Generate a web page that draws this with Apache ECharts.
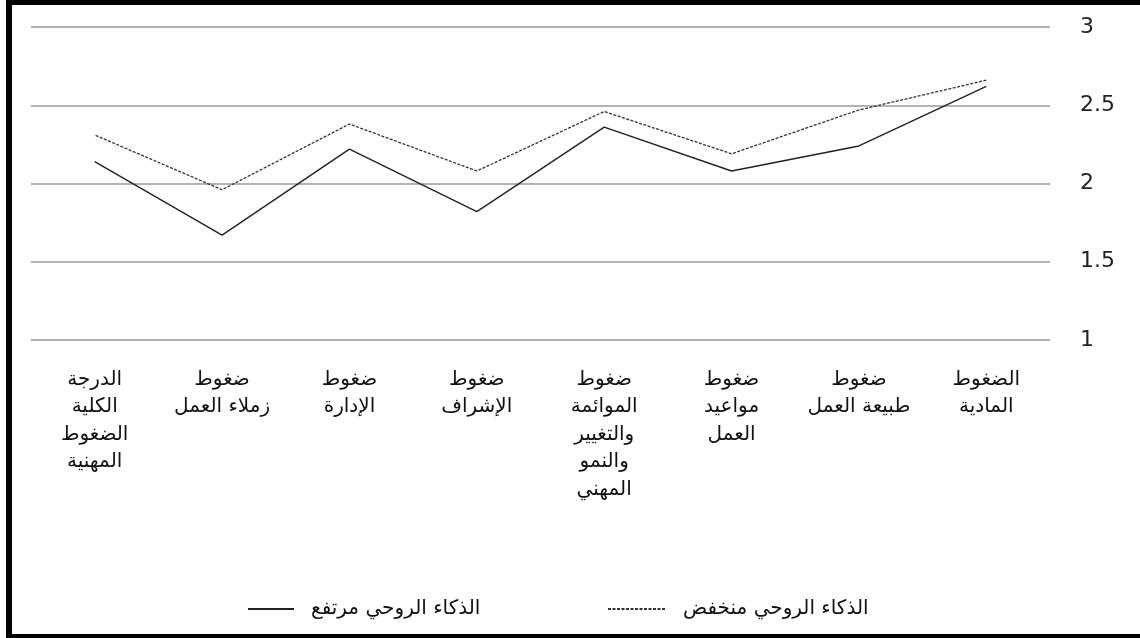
<!DOCTYPE html>
<html>
<head>
<meta charset="utf-8">
<script src="https://cdn.jsdelivr.net/npm/echarts@6/dist/echarts.min.js"></script>
<style>
html,body{margin:0;padding:0;background:#fff;overflow:hidden;}
#c{width:1140px;height:638px;}
</style>
</head>
<body>
<div id="c"></div>
<script>
// Categories in right-to-left order (first = rightmost)
const categories = [
  'الضغوط\nالمادية',
  'ضغوط\nطبيعة العمل',
  'ضغوط\nمواعيد\nالعمل',
  'ضغوط\nالموائمة\nوالتغيير\nوالنمو\nالمهني',
  'ضغوط\nالإشراف',
  'ضغوط\nالإدارة',
  'ضغوط\nزملاء العمل',
  'الدرجة\nالكلية\nالضغوط\nالمهنية'
];
const seriesHighName = 'الذكاء الروحي مرتفع';
const seriesLowName = 'الذكاء الروحي منخفض';
const highValues = [2.62, 2.24, 2.08, 2.36, 1.82, 2.22, 1.67, 2.14];
const lowValues  = [2.66, 2.47, 2.19, 2.46, 2.08, 2.38, 1.96, 2.31];
const yTicks = [1, 1.5, 2, 2.5, 3];

const arFont = "'DejaVu Sans', sans-serif";
const chart = echarts.init(document.getElementById('c'));
chart.setOption({
  backgroundColor: '#fff',
  animation: false,
  grid: {left: 31, right: 90, top: 27, bottom: 298},
  xAxis: {
    type: 'category',
    data: categories,
    inverse: true,
    boundaryGap: true,
    axisLine: {show: false},
    axisTick: {show: false},
    axisLabel: {
      interval: 0,
      margin: 26,
      fontFamily: arFont,
      fontSize: 20,
      lineHeight: 27.5,
      color: '#111',
      verticalAlign: 'top'
    }
  },
  yAxis: {
    type: 'value',
    position: 'right',
    min: yTicks[0],
    max: yTicks[yTicks.length - 1],
    interval: 0.5,
    axisLine: {show: false},
    axisTick: {show: false},
    axisLabel: {
      margin: 30,
      fontFamily: "'DejaVu Sans', sans-serif",
      fontSize: 22,
      color: '#222'
    },
    splitLine: {lineStyle: {color: '#9a9a9a', width: 1.5}}
  },
  legend: [
    {
      data: [seriesLowName],
      left: 602, top: 594,
      itemWidth: 58, itemHeight: 12,
      itemStyle: {opacity: 0},
      textStyle: {fontFamily: arFont, fontSize: 20, color: '#111', padding: [0, 0, 0, 12]}
    },
    {
      data: [seriesHighName],
      left: 242, top: 594,
      itemWidth: 46, itemHeight: 12,
      itemStyle: {opacity: 0},
      textStyle: {fontFamily: arFont, fontSize: 20, color: '#111', padding: [0, 0, 0, 12]}
    }
  ],
  series: [
    {
      name: seriesLowName,
      type: 'line',
      data: lowValues,
      symbol: 'none',
      lineStyle: {color: '#333', width: 1.3, type: [3, 1.5]},
      itemStyle: {color: '#333'}
    },
    {
      name: seriesHighName,
      type: 'line',
      data: highValues,
      symbol: 'none',
      lineStyle: {color: '#222', width: 1.4},
      itemStyle: {color: '#222'}
    }
  ],
  graphic: [
    {type: 'rect', shape: {x: 0, y: 0, width: 1140, height: 5}, style: {fill: '#000'}, silent: true},
    {type: 'rect', shape: {x: 6, y: 0, width: 6, height: 638}, style: {fill: '#000'}, silent: true},
    {type: 'rect', shape: {x: 0, y: 634, width: 1140, height: 4}, style: {fill: '#000'}, silent: true},
    {type: 'rect', shape: {x: 0, y: 0, width: 6, height: 638}, style: {fill: '#fff'}, silent: true}
  ]
});
</script>
</body>
</html>
